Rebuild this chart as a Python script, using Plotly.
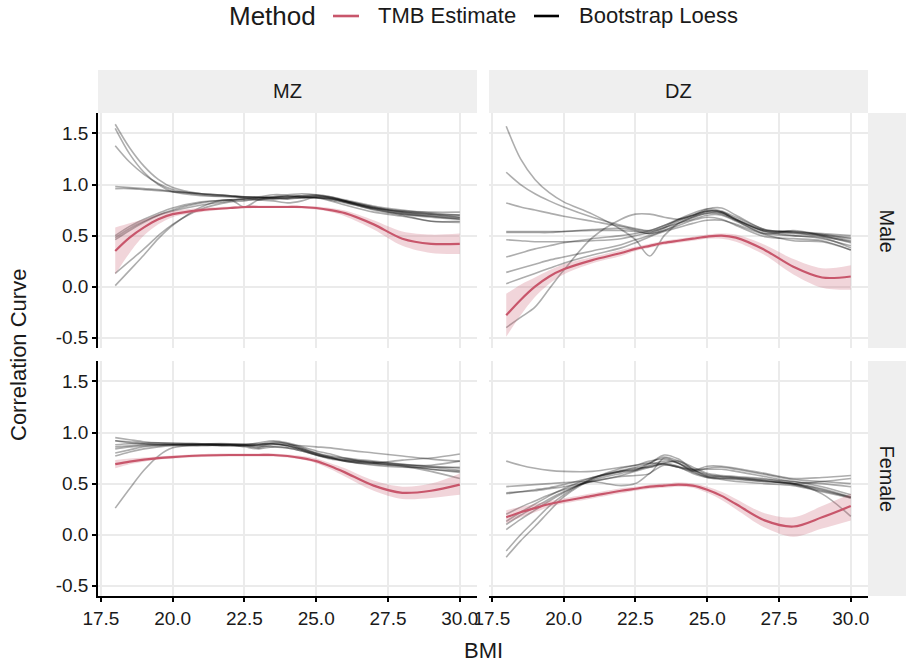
import plotly.graph_objects as go

# BMI grid shared by every curve
bmi = [18, 18.5, 19, 19.5, 20, 21, 22, 22.5, 23, 23.5, 24, 24.5, 25, 25.5, 26, 27, 28, 29, 30]

# ---- TMB estimates (centre, lower, upper) per zygosity / sex ----
tmb_mz_male = [0.35, 0.48, 0.58, 0.66, 0.71, 0.75, 0.77, 0.78, 0.78, 0.78, 0.78, 0.78, 0.77, 0.75, 0.72, 0.61, 0.47, 0.42, 0.42]
tmb_mz_male_lo = [0.12, 0.33, 0.50, 0.61, 0.68, 0.73, 0.76, 0.765, 0.77, 0.77, 0.77, 0.765, 0.755, 0.73, 0.69, 0.56, 0.40, 0.33, 0.32]
tmb_mz_male_hi = [0.58, 0.62, 0.66, 0.71, 0.74, 0.77, 0.785, 0.79, 0.795, 0.795, 0.795, 0.79, 0.785, 0.77, 0.745, 0.65, 0.54, 0.51, 0.52]

tmb_dz_male = [-0.28, -0.13, 0.0, 0.10, 0.17, 0.26, 0.33, 0.37, 0.40, 0.43, 0.45, 0.47, 0.49, 0.50, 0.48, 0.36, 0.195, 0.09, 0.10]
tmb_dz_male_lo = [-0.49, -0.28, -0.10, 0.03, 0.12, 0.23, 0.30, 0.35, 0.38, 0.41, 0.43, 0.45, 0.47, 0.47, 0.44, 0.31, 0.12, -0.01, -0.03]
tmb_dz_male_hi = [-0.07, 0.02, 0.09, 0.16, 0.22, 0.29, 0.36, 0.39, 0.42, 0.45, 0.47, 0.49, 0.51, 0.52, 0.51, 0.41, 0.27, 0.18, 0.21]

tmb_mz_female = [0.69, 0.715, 0.735, 0.75, 0.76, 0.775, 0.78, 0.78, 0.78, 0.78, 0.77, 0.75, 0.72, 0.67, 0.61, 0.48, 0.41, 0.43, 0.49]
tmb_mz_female_lo = [0.65, 0.69, 0.715, 0.735, 0.745, 0.76, 0.765, 0.765, 0.765, 0.765, 0.755, 0.735, 0.70, 0.64, 0.57, 0.43, 0.35, 0.36, 0.39]
tmb_mz_female_hi = [0.73, 0.745, 0.755, 0.765, 0.775, 0.79, 0.795, 0.795, 0.795, 0.795, 0.785, 0.77, 0.745, 0.70, 0.65, 0.53, 0.47, 0.50, 0.60]

tmb_dz_female = [0.17, 0.22, 0.26, 0.30, 0.33, 0.38, 0.43, 0.45, 0.47, 0.48, 0.49, 0.48, 0.44, 0.38, 0.30, 0.14, 0.08, 0.17, 0.28]
tmb_dz_female_lo = [0.11, 0.17, 0.22, 0.27, 0.305, 0.355, 0.405, 0.43, 0.45, 0.46, 0.47, 0.46, 0.41, 0.34, 0.25, 0.07, -0.02, 0.06, 0.14]
tmb_dz_female_hi = [0.24, 0.27, 0.30, 0.33, 0.355, 0.405, 0.455, 0.47, 0.49, 0.50, 0.51, 0.50, 0.47, 0.42, 0.35, 0.21, 0.17, 0.28, 0.40]

# ---- Bootstrap loess curves ----
boot_mz_male = [
    [1.59, 1.36, 1.18, 1.05, 0.97, 0.91, 0.89, 0.88, 0.88, 0.87, 0.87, 0.88, 0.88, 0.86, 0.83, 0.77, 0.73, 0.71, 0.70],
    [1.38, 1.22, 1.10, 1.01, 0.95, 0.90, 0.88, 0.87, 0.87, 0.87, 0.88, 0.89, 0.89, 0.87, 0.84, 0.78, 0.74, 0.71, 0.68],
    [1.55, 1.30, 1.12, 1.00, 0.93, 0.89, 0.88, 0.88, 0.87, 0.86, 0.86, 0.87, 0.87, 0.85, 0.82, 0.76, 0.71, 0.68, 0.66],
    [0.98, 0.97, 0.96, 0.95, 0.93, 0.91, 0.89, 0.87, 0.85, 0.87, 0.89, 0.88, 0.87, 0.86, 0.83, 0.77, 0.74, 0.73, 0.73],
    [0.96, 0.96, 0.95, 0.94, 0.93, 0.91, 0.89, 0.88, 0.88, 0.90, 0.90, 0.91, 0.90, 0.87, 0.84, 0.78, 0.73, 0.70, 0.68],
    [0.50, 0.59, 0.66, 0.72, 0.77, 0.83, 0.85, 0.86, 0.87, 0.87, 0.86, 0.87, 0.89, 0.88, 0.85, 0.79, 0.75, 0.72, 0.70],
    [0.46, 0.55, 0.63, 0.70, 0.75, 0.82, 0.85, 0.85, 0.85, 0.84, 0.82, 0.84, 0.88, 0.87, 0.84, 0.77, 0.72, 0.69, 0.67],
    [0.13, 0.25, 0.37, 0.50, 0.61, 0.76, 0.83, 0.84, 0.86, 0.88, 0.88, 0.87, 0.87, 0.86, 0.83, 0.75, 0.70, 0.64, 0.64],
    [0.01, 0.16, 0.31, 0.47, 0.60, 0.78, 0.85, 0.78, 0.85, 0.86, 0.87, 0.89, 0.90, 0.88, 0.84, 0.76, 0.71, 0.69, 0.66],
    [0.48, 0.57, 0.64, 0.70, 0.74, 0.80, 0.84, 0.86, 0.87, 0.88, 0.89, 0.88, 0.87, 0.84, 0.80, 0.73, 0.69, 0.64, 0.63],
]

boot_dz_male = [
    [1.57, 1.25, 1.05, 0.92, 0.83, 0.71, 0.56, 0.46, 0.30, 0.50, 0.62, 0.68, 0.72, 0.72, 0.65, 0.52, 0.55, 0.50, 0.43],
    [1.12, 1.00, 0.91, 0.84, 0.78, 0.68, 0.60, 0.57, 0.55, 0.60, 0.65, 0.70, 0.74, 0.73, 0.66, 0.54, 0.52, 0.49, 0.44],
    [0.82, 0.78, 0.75, 0.72, 0.69, 0.64, 0.59, 0.56, 0.54, 0.58, 0.66, 0.72, 0.76, 0.74, 0.68, 0.56, 0.53, 0.50, 0.45],
    [0.54, 0.54, 0.54, 0.54, 0.54, 0.55, 0.55, 0.54, 0.52, 0.55, 0.62, 0.68, 0.72, 0.71, 0.65, 0.54, 0.50, 0.48, 0.38],
    [0.46, 0.45, 0.44, 0.44, 0.44, 0.45, 0.47, 0.50, 0.53, 0.58, 0.62, 0.66, 0.70, 0.70, 0.64, 0.52, 0.50, 0.47, 0.40],
    [0.29, 0.33, 0.37, 0.40, 0.43, 0.47, 0.50, 0.52, 0.55, 0.60, 0.66, 0.70, 0.74, 0.73, 0.66, 0.55, 0.53, 0.51, 0.47],
    [0.14, 0.18, 0.22, 0.26, 0.29, 0.35, 0.41, 0.46, 0.50, 0.55, 0.60, 0.65, 0.68, 0.66, 0.60, 0.49, 0.47, 0.45, 0.36],
    [0.03, 0.08, 0.13, 0.18, 0.23, 0.31, 0.38, 0.43, 0.49, 0.54, 0.58, 0.62, 0.65, 0.65, 0.61, 0.51, 0.45, 0.44, 0.36],
    [-0.40, -0.30, -0.20, -0.02, 0.16, 0.48, 0.66, 0.71, 0.71, 0.68, 0.66, 0.70, 0.76, 0.77, 0.70, 0.56, 0.54, 0.51, 0.48],
    [0.53, 0.53, 0.53, 0.53, 0.54, 0.56, 0.57, 0.55, 0.52, 0.57, 0.64, 0.69, 0.74, 0.73, 0.66, 0.55, 0.54, 0.52, 0.50],
]

boot_mz_female = [
    [0.26, 0.45, 0.63, 0.77, 0.85, 0.88, 0.88, 0.88, 0.87, 0.86, 0.85, 0.82, 0.78, 0.75, 0.72, 0.68, 0.66, 0.66, 0.66],
    [0.95, 0.93, 0.91, 0.90, 0.90, 0.89, 0.88, 0.88, 0.90, 0.92, 0.90, 0.86, 0.82, 0.79, 0.75, 0.70, 0.68, 0.68, 0.72],
    [0.92, 0.91, 0.90, 0.90, 0.89, 0.89, 0.89, 0.88, 0.86, 0.90, 0.89, 0.85, 0.80, 0.76, 0.72, 0.70, 0.73, 0.75, 0.79],
    [0.88, 0.89, 0.89, 0.89, 0.89, 0.89, 0.89, 0.89, 0.89, 0.89, 0.88, 0.87, 0.86, 0.85, 0.83, 0.80, 0.77, 0.74, 0.72],
    [0.86, 0.87, 0.88, 0.88, 0.88, 0.88, 0.88, 0.87, 0.85, 0.88, 0.87, 0.83, 0.78, 0.74, 0.72, 0.69, 0.67, 0.64, 0.61],
    [0.84, 0.86, 0.87, 0.88, 0.88, 0.88, 0.87, 0.87, 0.88, 0.91, 0.89, 0.84, 0.79, 0.75, 0.73, 0.70, 0.67, 0.62, 0.55],
    [0.80, 0.83, 0.86, 0.87, 0.88, 0.88, 0.88, 0.86, 0.84, 0.86, 0.85, 0.82, 0.78, 0.75, 0.73, 0.71, 0.69, 0.67, 0.65],
    [0.77, 0.81, 0.84, 0.86, 0.87, 0.87, 0.88, 0.88, 0.88, 0.89, 0.87, 0.83, 0.79, 0.76, 0.74, 0.71, 0.68, 0.64, 0.62],
    [0.92, 0.90, 0.89, 0.88, 0.88, 0.88, 0.87, 0.87, 0.88, 0.89, 0.87, 0.84, 0.80, 0.77, 0.75, 0.72, 0.69, 0.66, 0.63],
]

boot_dz_female = [
    [0.72, 0.68, 0.65, 0.63, 0.62, 0.62, 0.66, 0.68, 0.70, 0.69, 0.66, 0.64, 0.64, 0.64, 0.62, 0.57, 0.52, 0.50, 0.47],
    [0.47, 0.48, 0.49, 0.50, 0.51, 0.52, 0.48, 0.50, 0.60, 0.68, 0.66, 0.60, 0.56, 0.55, 0.55, 0.53, 0.50, 0.52, 0.55],
    [0.41, 0.42, 0.43, 0.45, 0.47, 0.52, 0.58, 0.62, 0.66, 0.70, 0.67, 0.63, 0.67, 0.67, 0.65, 0.60, 0.55, 0.56, 0.58],
    [0.40, 0.42, 0.44, 0.46, 0.49, 0.56, 0.62, 0.64, 0.67, 0.70, 0.72, 0.66, 0.60, 0.58, 0.57, 0.55, 0.50, 0.45, 0.37],
    [0.13, 0.22, 0.30, 0.38, 0.45, 0.56, 0.62, 0.63, 0.68, 0.72, 0.70, 0.62, 0.56, 0.54, 0.52, 0.50, 0.48, 0.42, 0.36],
    [0.10, 0.19, 0.27, 0.35, 0.42, 0.53, 0.60, 0.63, 0.70, 0.76, 0.72, 0.64, 0.57, 0.55, 0.54, 0.52, 0.50, 0.40, 0.18],
    [0.05, 0.15, 0.24, 0.33, 0.41, 0.55, 0.65, 0.68, 0.72, 0.74, 0.70, 0.63, 0.58, 0.57, 0.56, 0.53, 0.49, 0.43, 0.37],
    [-0.16, 0.00, 0.14, 0.28, 0.39, 0.55, 0.63, 0.66, 0.70, 0.78, 0.74, 0.64, 0.59, 0.57, 0.56, 0.54, 0.52, 0.47, 0.39],
    [-0.22, -0.06, 0.08, 0.23, 0.37, 0.54, 0.62, 0.65, 0.66, 0.69, 0.66, 0.62, 0.65, 0.66, 0.64, 0.59, 0.54, 0.52, 0.50],
    [0.20, 0.27, 0.33, 0.39, 0.44, 0.52, 0.57, 0.58, 0.60, 0.75, 0.70, 0.61, 0.57, 0.56, 0.55, 0.52, 0.50, 0.44, 0.36],
]

# axis ticks
x_ticks = [17.5, 20.0, 22.5, 25.0, 27.5, 30.0]
x_ticklabels = ["17.5", "20.0", "22.5", "25.0", "27.5", "30.0"]
y_ticks = [-0.5, 0.0, 0.5, 1.0, 1.5]
y_ticklabels = ["-0.5", "0.0", "0.5", "1.0", "1.5"]

# facet and legend labels
zygosity = ["MZ", "DZ"]
sexes = ["Male", "Female"]
legend_title = "Method"
method_names = ["TMB Estimate", "Bootstrap Loess"]

RED = "#C8566B"
RIBBON = "rgba(200,86,107,0.25)"
GREY = "rgba(0,0,0,0.32)"
FONT = "Liberation Sans, Arial, sans-serif"
TEXT = "#1a1a1a"
method_colors = [RED, "black"]

W, H = 908, 667
# panel boxes in pixels: (left, right) per column, (top, bottom) per row
col_px = [(98, 477), (489, 868)]
row_px = [(113, 348), (361, 596)]

panels = [
    (0, 0, tmb_mz_male, tmb_mz_male_lo, tmb_mz_male_hi, boot_mz_male),
    (0, 1, tmb_dz_male, tmb_dz_male_lo, tmb_dz_male_hi, boot_dz_male),
    (1, 0, tmb_mz_female, tmb_mz_female_lo, tmb_mz_female_hi, boot_mz_female),
    (1, 1, tmb_dz_female, tmb_dz_female_lo, tmb_dz_female_hi, boot_dz_female),
]

fig = go.Figure()
layout_axes = {}

for i, (r, c, est, lo, hi, boots) in enumerate(panels, start=1):
    xa = "x" if i == 1 else f"x{i}"
    ya = "y" if i == 1 else f"y{i}"
    for curve in boots:
        fig.add_trace(go.Scatter(
            x=bmi, y=curve, xaxis=xa, yaxis=ya, mode="lines",
            line=dict(color=GREY, width=1.6, shape="spline", smoothing=0.9),
            name="Bootstrap Loess", showlegend=False, hoverinfo="skip"))
    fig.add_trace(go.Scatter(
        x=bmi, y=lo, xaxis=xa, yaxis=ya, mode="lines",
        line=dict(width=0, shape="spline", smoothing=0.9),
        showlegend=False, hoverinfo="skip"))
    fig.add_trace(go.Scatter(
        x=bmi, y=hi, xaxis=xa, yaxis=ya, mode="lines", fill="tonexty",
        fillcolor=RIBBON, line=dict(width=0, shape="spline", smoothing=0.9),
        showlegend=False, hoverinfo="skip"))
    fig.add_trace(go.Scatter(
        x=bmi, y=est, xaxis=xa, yaxis=ya, mode="lines",
        line=dict(color=RED, width=2.2, shape="spline", smoothing=0.9),
        name="TMB Estimate", showlegend=False))

    left, right = col_px[c]
    top, bottom = row_px[r]
    bottom_row = r == 1
    left_col = c == 0
    key = "" if i == 1 else str(i)
    common = dict(
        showgrid=True, gridcolor="#EBEBEB", gridwidth=2, zeroline=False,
        linecolor="black", linewidth=1.6, automargin=False,
        ticklen=4, tickwidth=1.5, tickcolor="black",
        tickfont=dict(size=19, color=TEXT, family=FONT))
    layout_axes["xaxis" + key] = dict(
        domain=[left / W, right / W], anchor=ya, range=[17.4, 30.6],
        tickvals=x_ticks, ticktext=x_ticklabels, showticklabels=bottom_row,
        showline=bottom_row, ticks="outside" if bottom_row else "", **common)
    layout_axes["yaxis" + key] = dict(
        domain=[1 - bottom / H, 1 - top / H], anchor=xa, range=[-0.6, 1.7],
        tickvals=y_ticks, ticktext=y_ticklabels, showticklabels=left_col,
        showline=left_col, ticks="outside" if left_col else "", **common)

shapes = []
annotations = []


def label(text, x_px, y_px, size, angle=0, xanchor="center"):
    return dict(text=text, xref="paper", yref="paper", x=x_px / W, y=1 - y_px / H,
                xanchor=xanchor, yanchor="middle", textangle=angle, showarrow=False,
                font=dict(size=size, color=TEXT, family=FONT))


# facet strips
for c, z in enumerate(zygosity):
    left, right = col_px[c]
    shapes.append(dict(type="rect", xref="paper", yref="paper",
                       x0=left / W, x1=right / W, y0=1 - 113 / H, y1=1 - 70 / H,
                       fillcolor="#EFEFEF", line=dict(width=0), layer="below"))
    annotations.append(label(z, (left + right) / 2, 91.5, 20))
for r, s in enumerate(sexes):
    top, bottom = row_px[r]
    shapes.append(dict(type="rect", xref="paper", yref="paper",
                       x0=868 / W, x1=906 / W, y0=1 - bottom / H, y1=1 - top / H,
                       fillcolor="#EFEFEF", line=dict(width=0), layer="below"))
    annotations.append(label(s, 887, (top + bottom) / 2, 20, angle=90))

# axis titles
annotations.append(label("Correlation Curve", 18, 355, 22, angle=-90))
annotations.append(label("BMI", 483, 650, 22))

# legend across the top: title, then a key line and a label per method
LEG_Y = 16
annotations.append(label(legend_title, 227, LEG_Y, 26, xanchor="left"))
key_x = [(333, 359, 376), (534, 559, 577)]
for (k0, k1, tx), name, col in zip(key_x, method_names, method_colors):
    shapes.append(dict(type="line", xref="paper", yref="paper",
                       x0=k0 / W, x1=k1 / W, y0=1 - LEG_Y / H, y1=1 - LEG_Y / H,
                       line=dict(color=col, width=2.6)))
    annotations.append(label(name, tx, LEG_Y, 22, xanchor="left"))

fig.update_layout(
    width=W, height=H,
    margin=dict(l=0, r=0, t=0, b=0),
    paper_bgcolor="white", plot_bgcolor="white",
    font=dict(family=FONT, color="black"),
    showlegend=False,
    shapes=shapes, annotations=annotations,
    **layout_axes,
)

fig.write_html("out.html")
